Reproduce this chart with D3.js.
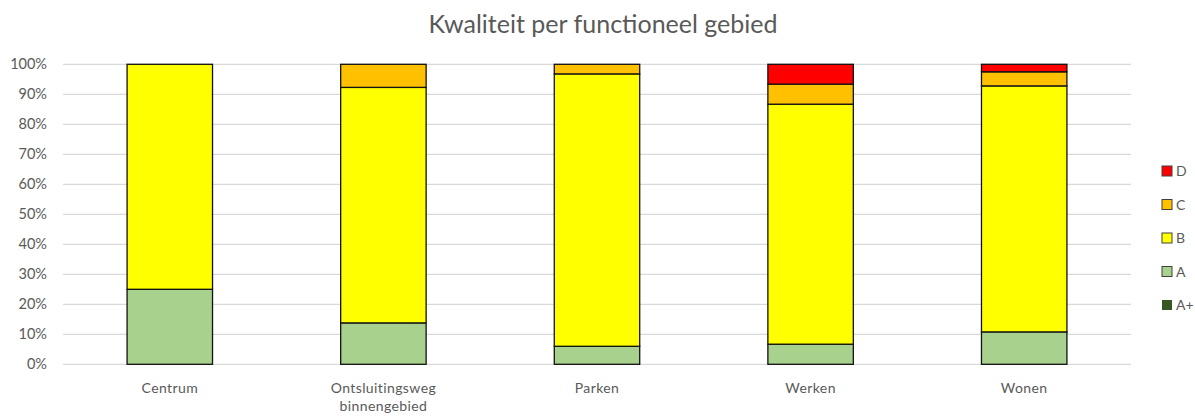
<!DOCTYPE html>
<html>
<head>
<meta charset="utf-8">
<script src="https://cdn.jsdelivr.net/npm/d3@7"></script>
<style>
  body { margin: 0; background: #fff; }
  text { font-family: Lato, "Open Sans", sans-serif; }
</style>
</head>
<body>
<svg id="chart" width="1195" height="417"></svg>
<script>
// gegevens
const gebieden = ['Centrum', 'Ontsluitingsweg binnengebied', 'Parken', 'Werken', 'Wonen'];
const klassen = ['A+', 'A', 'B', 'C', 'D'];
const waardeAplus = [0, 0, 0, 0, 0];
const waardeA = [25, 13.8, 6.0, 6.7, 10.8];
const waardeB = [75, 78.5, 90.8, 80.0, 82.0];
const waardeC = [0, 7.7, 3.2, 6.7, 4.7];
const waardeD = [0, 0, 0, 6.6, 2.5];
const kleuren = ['#375623', '#A9D18E', '#FFFF00', '#FFC000', '#FF0000'];
const yTicks = [0, 10, 20, 30, 40, 50, 60, 70, 80, 90, 100];

const reeksen = [waardeAplus, waardeA, waardeB, waardeC, waardeD];
const tabel = gebieden.map((g, i) => {
  const rij = { gebied: g };
  klassen.forEach((k, j) => { rij[k] = reeksen[j][i]; });
  return rij;
});

const svg = d3.select('#chart');
const margin = { left: 63, right: 64, top: 64.3, bottom: 52.7 };
const width = 1195 - margin.left - margin.right;
const height = 417 - margin.top - margin.bottom;

const x = d3.scaleBand().domain(gebieden).range([margin.left, margin.left + width])
  .paddingInner(0.6).paddingOuter(0.3);
const y = d3.scaleLinear().domain([0, 100]).range([margin.top + height, margin.top]);

// titel
svg.append('text')
  .attr('x', 603).attr('y', 33)
  .attr('text-anchor', 'middle')
  .attr('font-size', 25)
  .attr('fill', '#595959')
  .text('Kwaliteit per functioneel gebied');

// rasterlijnen
svg.append('g')
  .selectAll('line')
  .data(yTicks)
  .join('line')
  .attr('x1', margin.left).attr('x2', margin.left + width)
  .attr('y1', (d) => y(d)).attr('y2', (d) => y(d))
  .attr('stroke', '#d9d9d9').attr('stroke-width', 1.2);

// y-as
const yAxis = svg.append('g')
  .attr('transform', `translate(${margin.left},0)`)
  .call(d3.axisLeft(y).tickValues(yTicks).tickFormat((d) => d + '%').tickSize(0).tickPadding(16));
yAxis.select('.domain').remove();
yAxis.selectAll('text').attr('font-size', 14.5).attr('fill', '#595959').attr('font-family', 'Lato, sans-serif');

// gestapelde balken
const stack = d3.stack().keys(klassen)(tabel);
svg.append('g')
  .selectAll('g')
  .data(stack)
  .join('g')
  .attr('fill', (d, i) => kleuren[i])
  .selectAll('rect')
  .data((d) => d.filter((s) => s[1] - s[0] > 0))
  .join('rect')
  .attr('x', (d) => x(d.data.gebied))
  .attr('width', x.bandwidth())
  .attr('y', (d) => y(d[1]))
  .attr('height', (d) => y(d[0]) - y(d[1]))
  .attr('stroke', '#111')
  .attr('stroke-width', 1.3);

// x-labels
const xl = svg.append('g')
  .selectAll('text')
  .data(gebieden)
  .join('text')
  .attr('x', (d) => x(d) + x.bandwidth() / 2)
  .attr('y', 393)
  .attr('text-anchor', 'middle')
  .attr('font-size', 14)
  .attr('letter-spacing', 0.4)
  .attr('fill', '#595959');
xl.each(function (d) {
  const woorden = d.split(' ');
  woorden.forEach((w, i) => {
    d3.select(this).append('tspan')
      .attr('x', x(d) + x.bandwidth() / 2)
      .attr('dy', i === 0 ? 0 : 18)
      .text(w);
  });
});

// legenda
const legenda = svg.append('g')
  .selectAll('g')
  .data(klassen.slice().reverse())
  .join('g')
  .attr('transform', (d, i) => `translate(1162,${171 + i * 33.5})`);
legenda.append('rect')
  .attr('x', 0).attr('y', -5).attr('width', 10).attr('height', 10)
  .attr('fill', (d) => kleuren[klassen.indexOf(d)])
  .attr('stroke', (d) => (d === 'A+' ? 'none' : '#404040'))
  .attr('stroke-width', 1);
legenda.append('text')
  .attr('x', 14).attr('y', 5)
  .attr('font-size', 14)
  .attr('fill', '#595959')
  .text((d) => d);
</script>
</body>
</html>
